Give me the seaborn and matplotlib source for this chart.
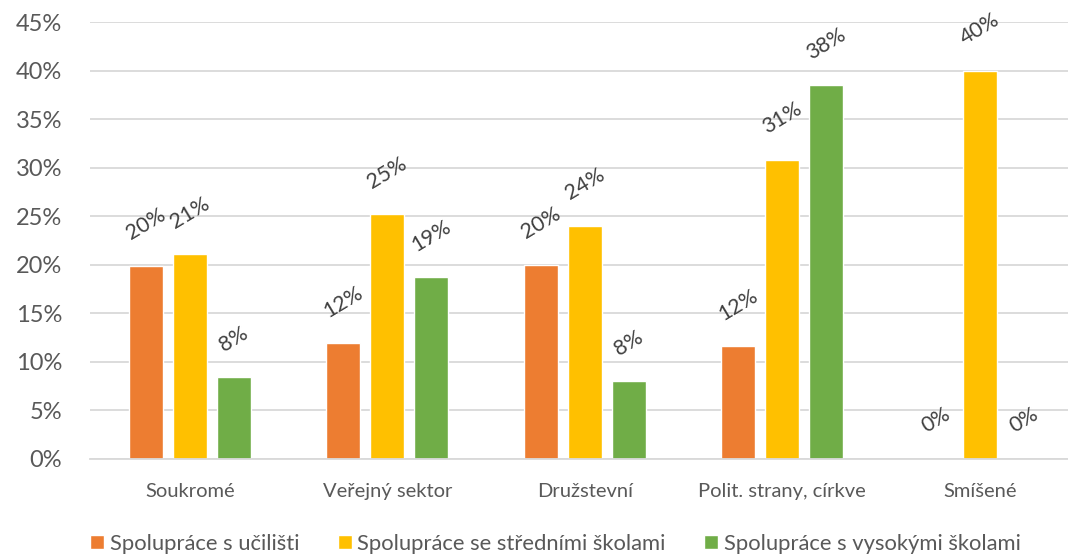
import pandas as pd
import matplotlib.pyplot as plt
import seaborn as sns
from matplotlib.ticker import PercentFormatter

categories = ['Soukromé', 'Veřejný sektor', 'Družstevní', 'Polit. strany, církve', 'Smíšené']
series = ['Spolupráce s učilišti', 'Spolupráce se středními školami', 'Spolupráce s vysokými školami']
ucilisti = [19.9, 11.9, 20.0, 11.6, 0.0]
stredni = [21.1, 25.2, 24.0, 30.8, 40.0]
vysoke = [8.4, 18.7, 8.0, 38.5, 0.0]
colors = ['#ED7D31', '#FFC000', '#70AD47']

df = pd.DataFrame({
    'Kategorie': categories * 3,
    'Serie': [series[0]] * 5 + [series[1]] * 5 + [series[2]] * 5,
    'Hodnota': ucilisti + stredni + vysoke,
})

sns.set_style('white')
plt.rcParams['font.family'] = ['Lato', 'DejaVu Sans']
txt = '#595959'

fig, ax = plt.subplots(figsize=(10.68, 5.56), dpi=100)
fig.subplots_adjust(left=0.084, right=1.0, top=0.96, bottom=0.1745)

sns.barplot(data=df, x='Kategorie', y='Hodnota', hue='Serie', palette=colors,
            width=0.668, gap=0.23, ax=ax, saturation=1)

# data labels, rotated like in the original
for container in ax.containers:
    for bar in container:
        h = bar.get_height()
        ax.annotate(f'{h:.0f}%', (bar.get_x() + bar.get_width() / 2, h),
                    xytext=(0, 16), textcoords='offset points',
                    ha='center', va='bottom', rotation=31,
                    fontsize=15.5, color='#404040')

ax.set_ylim(0, 45)
ax.set_xlim(-0.506, 4.446)
ax.set_yticks(range(0, 46, 5))
ax.yaxis.set_major_formatter(PercentFormatter(decimals=0))
ax.yaxis.grid(True, color='#D9D9D9', linewidth=1.3)
ax.set_axisbelow(True)
for s in ['top', 'right', 'left']:
    ax.spines[s].set_visible(False)
ax.spines['bottom'].set_color('#D9D9D9')
ax.spines['bottom'].set_linewidth(1.3)
ax.tick_params(axis='y', labelsize=17, labelcolor=txt, length=0, pad=20)
ax.tick_params(axis='x', labelsize=14.5, labelcolor=txt, length=0, pad=17)
ax.set_xlabel('')
ax.set_ylabel('')

handles, labels = ax.get_legend_handles_labels()
ax.get_legend().remove()
fig.legend(handles, labels, loc='center', bbox_to_anchor=(0.52, 0.022),
           bbox_transform=fig.transFigure, ncol=3, frameon=False,
           fontsize=15.8, handlelength=0.64, handleheight=0.64, handletextpad=0.27,
           columnspacing=1.73, labelcolor=txt)

plt.savefig('out.png', dpi=100)
